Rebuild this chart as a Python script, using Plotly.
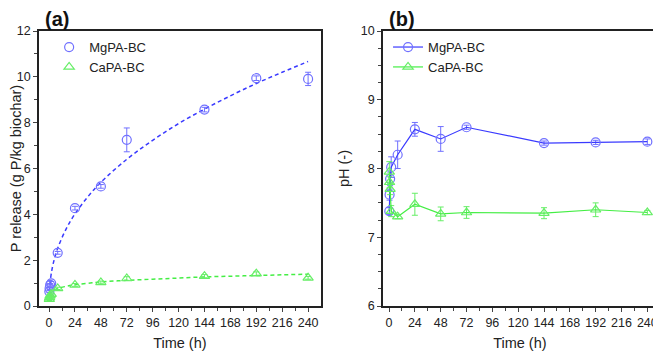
import plotly.graph_objects as go

# Panel (a): P release (g P/kg biochar)
t_rel = [0.25, 0.5, 1, 2, 8, 24, 48, 72, 144, 192, 240]
mg_rel = [0.63, 0.77, 0.92, 0.99, 2.32, 4.27, 5.22, 7.25, 8.57, 9.94, 9.91]
mg_rel_err = [0.05, 0.05, 0.06, 0.08, 0.06, 0.08, 0.08, 0.52, 0.1, 0.1, 0.29]
ca_rel = [0.3, 0.38, 0.45, 0.52, 0.77, 0.92, 1.03, 1.2, 1.3, 1.41, 1.23]
ca_rel_err = [0.06, 0.05, 0.06, 0.05, 0.05, 0.06, 0.06, 0.08, 0.07, 0.08, 0.06]

# fitted curves
fit_t = [0.3, 0.5, 1, 2, 4, 8, 16, 24, 36, 48, 72, 96, 120, 144, 168, 192, 216, 240]
mg_fit = [0.63, 0.78, 1.04, 1.40, 1.88, 2.52, 3.38, 4.02, 4.77, 5.40, 6.40,
          7.23, 7.96, 8.59, 9.17, 9.71, 10.20, 10.67]
ca_fit = [0.50, 0.52, 0.56, 0.61, 0.68, 0.77, 0.86, 0.93, 0.99, 1.05, 1.12,
          1.17, 1.22, 1.27, 1.30, 1.33, 1.36, 1.39]

# Panel (b): pH
t_ph = [0.25, 0.5, 1, 2, 8, 24, 48, 72, 144, 192, 240]
mg_ph = [7.38, 7.62, 7.85, 8.02, 8.2, 8.57, 8.43, 8.6, 8.37, 8.38, 8.39]
mg_ph_err = [0.05, 0.08, 0.1, 0.15, 0.2, 0.1, 0.18, 0.03, 0.03, 0.03, 0.04]
ca_ph = [7.95, 7.8, 7.7, 7.38, 7.3, 7.48, 7.34, 7.36, 7.35, 7.4, 7.36]
ca_ph_err = [0.15, 0.08, 0.08, 0.08, 0.03, 0.16, 0.1, 0.085, 0.08, 0.1, 0.03]

blue = '#7070ff'
blue_line = '#3a3aff'
green = '#66ee66'
green_line = '#44ee44'
font = 'Liberation Sans, Arial, sans-serif'

# page has an 8px body margin, so the figure is 8px smaller each way
W, H = 653, 344

fig = go.Figure()

# (a) fit curves
fig.add_trace(go.Scatter(x=fit_t, y=mg_fit, mode='lines', line=dict(color=blue_line, width=1.5, dash='4px,3px', shape='spline'),
                         showlegend=False, xaxis='x', yaxis='y'))
fig.add_trace(go.Scatter(x=fit_t, y=ca_fit, mode='lines', line=dict(color=green_line, width=1.5, dash='4px,3px', shape='spline'),
                         showlegend=False, xaxis='x', yaxis='y'))
# (a) data
fig.add_trace(go.Scatter(x=t_rel, y=mg_rel, mode='markers', name='MgPA-BC',
                         marker=dict(symbol='circle-open', size=9, color=blue, line=dict(width=1.2)),
                         error_y=dict(type='data', array=mg_rel_err, color=blue, thickness=1, width=3),
                         xaxis='x', yaxis='y', legend='legend'))
fig.add_trace(go.Scatter(x=t_rel, y=ca_rel, mode='markers', name='CaPA-BC',
                         marker=dict(symbol='triangle-up-open', size=9, color=green, line=dict(width=1.2)),
                         error_y=dict(type='data', array=ca_rel_err, color=green, thickness=1, width=3),
                         xaxis='x', yaxis='y', legend='legend'))

# (b) data
fig.add_trace(go.Scatter(x=t_ph, y=mg_ph, mode='lines+markers', name='MgPA-BC',
                         line=dict(color=blue_line, width=1.2),
                         marker=dict(symbol='circle-open', size=9, color=blue, line=dict(width=1.2)),
                         error_y=dict(type='data', array=mg_ph_err, color=blue, thickness=1, width=3),
                         xaxis='x2', yaxis='y2', legend='legend2'))
fig.add_trace(go.Scatter(x=t_ph, y=ca_ph, mode='lines+markers', name='CaPA-BC',
                         line=dict(color=green_line, width=1.2),
                         marker=dict(symbol='triangle-up-open', size=9, color=green, line=dict(width=1.2)),
                         error_y=dict(type='data', array=ca_ph_err, color=green, thickness=1, width=3),
                         xaxis='x2', yaxis='y2', legend='legend2'))

x_common = dict(tickmode='array', tickvals=list(range(0, 241, 24)), ticks='outside', ticklen=4, tickwidth=1.2,
                minor=dict(dtick=12, tick0=0, ticks='outside', ticklen=3, tickwidth=1),
                showline=True, linecolor='#222', linewidth=1.5, mirror=True, showgrid=False, zeroline=False,
                automargin=False, tickfont=dict(size=12.5, color='#222'),
                title=dict(text='Time (h)', font=dict(size=14.5, color='#222'), standoff=9))
y_common = dict(ticks='outside', ticklen=4, tickwidth=1.2, automargin=False,
                showline=True, linecolor='#222', linewidth=1.5, mirror=True, showgrid=False, zeroline=False,
                tickfont=dict(size=12.5, color='#222'))

fig.update_layout(
    width=W, height=H,
    margin=dict(l=0, r=0, t=0, b=0),
    paper_bgcolor='white', plot_bgcolor='white',
    font=dict(family=font, color='#222'),
    xaxis=dict(x_common, domain=[0.0475, 0.4789], range=[-9.3, 251.7], anchor='y'),
    yaxis=dict(y_common, domain=[0.1337, 0.9331], range=[0, 12], dtick=2,
               minor=dict(dtick=1, ticks='outside', ticklen=3, tickwidth=1), anchor='x',
               title=dict(text='P release (g P/kg biochar)', font=dict(size=14.5, color='#222'), standoff=16)),
    xaxis2=dict(x_common, domain=[0.5743, 0.9934], range=[-5.6, 248.7], anchor='y2'),
    yaxis2=dict(y_common, domain=[0.1337, 0.9331], range=[6, 10], dtick=1,
                minor=dict(dtick=0.25, ticks='outside', ticklen=3, tickwidth=1), anchor='x2',
                title=dict(text='pH (-)', font=dict(size=14.5, color='#222'), standoff=8)),
    legend=dict(x=0.063, y=0.93, xanchor='left', yanchor='top', bgcolor='rgba(0,0,0,0)',
                font=dict(size=13, color='#222'), itemwidth=30, tracegroupgap=0),
    legend2=dict(x=0.582, y=0.93, xanchor='left', yanchor='top', bgcolor='rgba(0,0,0,0)',
                 font=dict(size=13, color='#222'), itemwidth=30, tracegroupgap=0),
    annotations=[
        dict(text='<b>(a)</b>', x=35, y=0, xref='paper', yref='paper', showarrow=False,
             font=dict(size=20, color='#111')),
        dict(text='<b>(b)</b>', x=379, y=0, xref='paper', yref='paper', showarrow=False,
             font=dict(size=20, color='#111')),
    ],
)

# convert pixel positions of panel labels to paper coords (top-anchored)
for ann in fig.layout.annotations:
    ann.x = ann.x / W
    ann.y = 1 - ann.y / H
    ann.xanchor = 'left'
    ann.yanchor = 'top'
    ann.yshift = 2

fig.write_html('out.html')
